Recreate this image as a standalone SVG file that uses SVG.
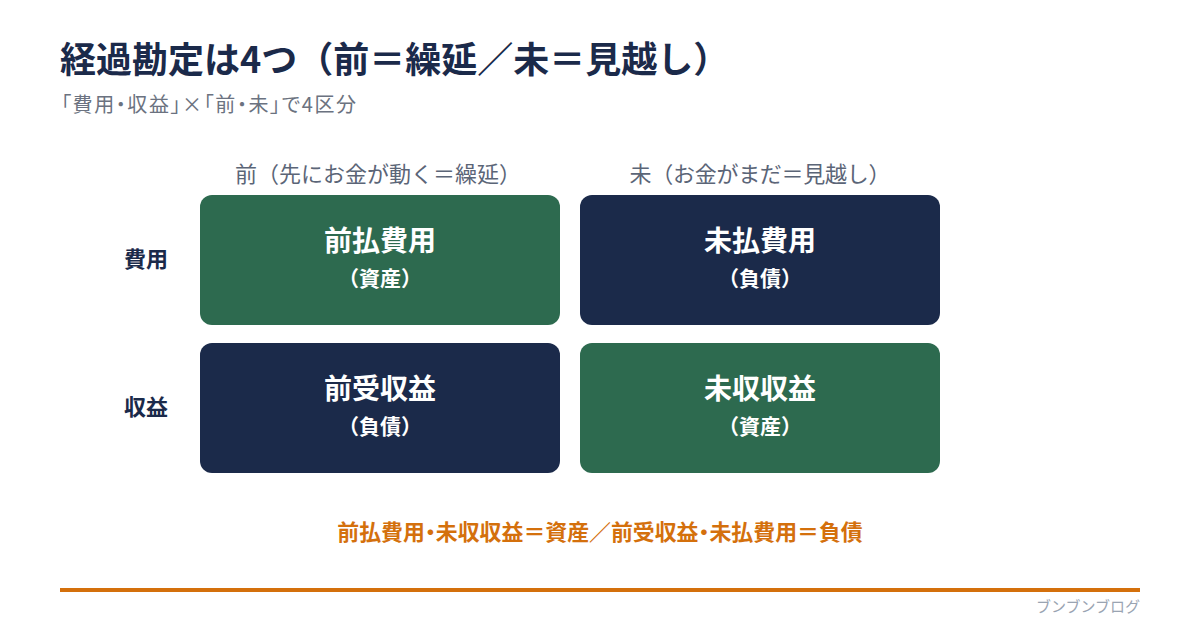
<svg xmlns="http://www.w3.org/2000/svg" width="1200" height="630" viewBox="0 0 1200 630">
  <style>
    text { font-family: "Noto Sans CJK JP", "Noto Sans", sans-serif; }
    .title { font-size: 36px; font-weight: 700; fill: #1b2a4a; }
    .sub { font-size: 20px; fill: #6b7280; font-feature-settings: "palt" 1; }
    .colh { font-size: 22px; fill: #5b6577; text-anchor: middle; }
    .rowh { font-size: 22px; font-weight: 700; fill: #1b2a4a; text-anchor: middle; }
    .green { fill: #2d6a4f; }
    .navy { fill: #1b2a4a; }
    .bt { font-size: 28px; font-weight: 700; fill: #ffffff; text-anchor: middle; }
    .bs { font-size: 21px; font-weight: 700; fill: #ffffff; text-anchor: middle; }
    .note { font-size: 21.9px; font-weight: 700; fill: #d4700c; text-anchor: middle; }
    .p { font-feature-settings: "palt" 1; }
    .foot { font-size: 15px; fill: #9aa4b2; text-anchor: end; }
  </style>
  <rect x="0" y="0" width="1200" height="630" fill="#ffffff"/>

  <text class="title" x="60" y="73">経過勘定は4つ（前＝繰延／未＝見越し）</text>
  <text class="sub" x="61" y="112" textLength="295" lengthAdjust="spacing">「費用・収益」×「前・未」で4区分</text>

  <g id="col-headers">
    <text class="colh" x="378" y="182">前（先にお金が動く＝繰延）</text>
    <text class="colh" x="760" y="182" textLength="261" lengthAdjust="spacing">未（お金がまだ＝見越し）</text>
  </g>
  <g id="row-headers">
    <text class="rowh" x="146" y="267">費用</text>
    <text class="rowh" x="146" y="415">収益</text>
  </g>

  <g id="node-maebarai-hiyou">
    <rect class="green" x="200" y="195" width="360" height="130" rx="12" ry="12"/>
    <text class="bt" x="380" y="251">前払費用</text>
    <text class="bs" x="380" y="285.5">（資産）</text>
  </g>
  <g id="node-mibarai-hiyou">
    <rect class="navy" x="580" y="195" width="360" height="130" rx="12" ry="12"/>
    <text class="bt" x="760" y="251">未払費用</text>
    <text class="bs" x="760" y="285.5">（負債）</text>
  </g>
  <g id="node-maeuke-shueki">
    <rect class="navy" x="200" y="343" width="360" height="130" rx="12" ry="12"/>
    <text class="bt" x="380" y="399">前受収益</text>
    <text class="bs" x="380" y="433.5">（負債）</text>
  </g>
  <g id="node-mishu-shueki">
    <rect class="green" x="580" y="343" width="360" height="130" rx="12" ry="12"/>
    <text class="bt" x="760" y="399">未収収益</text>
    <text class="bs" x="760" y="433.5">（資産）</text>
  </g>

  <g id="connectors"></g>

  <text class="note" x="600" y="540">前払費用<tspan class="p">・</tspan>未収収益＝資産／前受収益<tspan class="p">・</tspan>未払費用＝負債</text>
  <rect x="60" y="588" width="1080" height="4" fill="#d4700c"/>
  <text class="foot" x="1140" y="612">ブンブンブログ</text>
</svg>
